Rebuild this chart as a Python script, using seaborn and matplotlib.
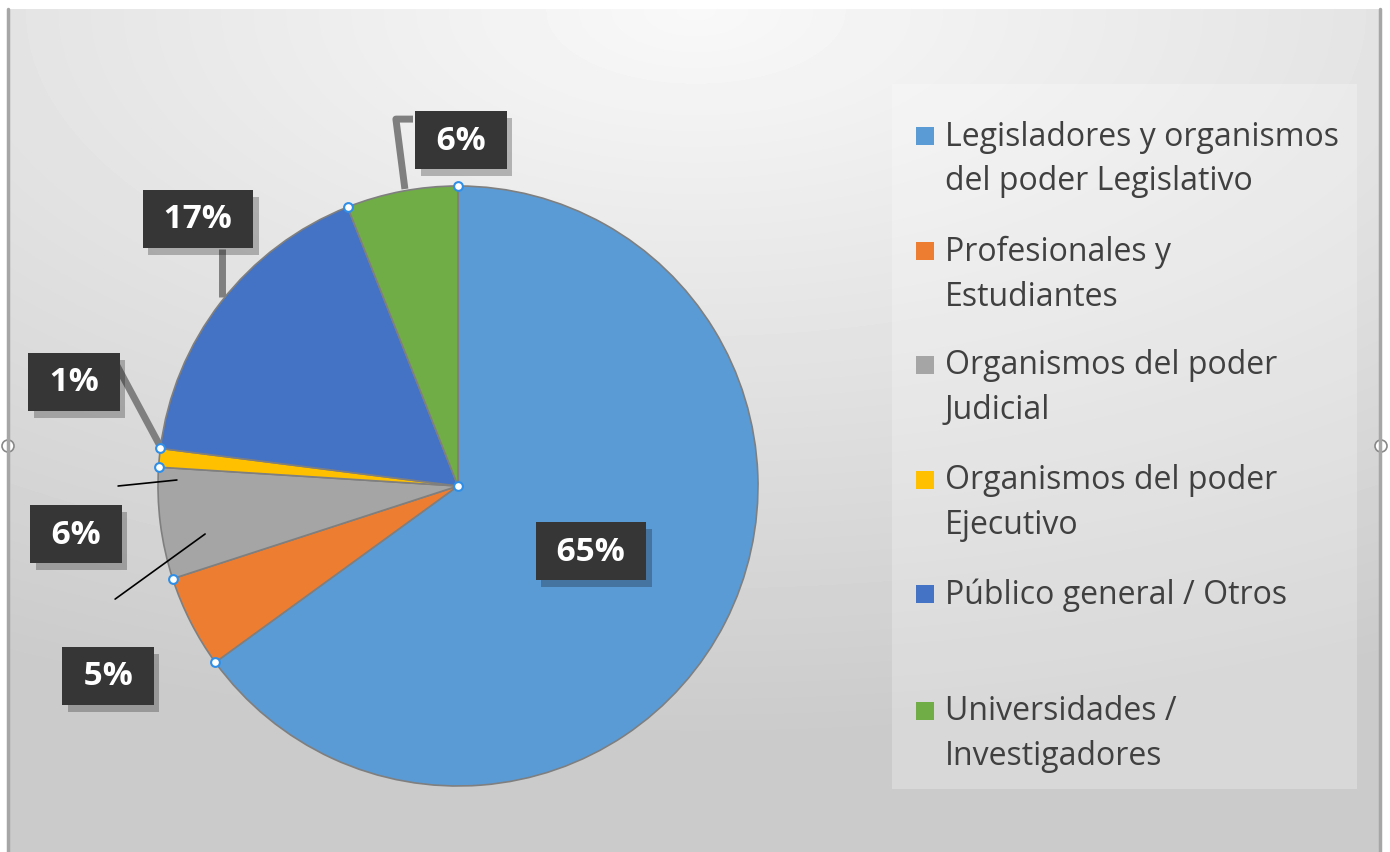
import matplotlib
matplotlib.use("Agg")
import matplotlib.pyplot as plt
import matplotlib.patches as mpatches
import matplotlib.patheffects as pe
import seaborn as sns
import numpy as np

# data
categories = [
    "Legisladores y organismos\ndel poder Legislativo",
    "Profesionales y\nEstudiantes",
    "Organismos del poder\nJudicial",
    "Organismos del poder\nEjecutivo",
    "Público general / Otros",
    "Universidades /\nInvestigadores",
]
shares = [65, 5, 6, 1, 17, 6]
pct_labels = ["65%", "5%", "6%", "1%", "17%", "6%"]
palette = ["#5B9BD5", "#ED7D31", "#A5A5A5", "#FFC000", "#4472C4", "#70AD47"]

sns.set_style("white")
plt.rcParams["font.family"] = ["Open Sans", "DejaVu Sans"]

W, H = 1390, 853
fig = plt.figure(figsize=(W / 100, H / 100), dpi=100)
fig.patch.set_facecolor("white")

# background panel with soft radial gradient
bg = fig.add_axes([7 / W, 0, (1381 - 7) / W, (H - 10) / H])
yy, xx = np.mgrid[0:200, 0:330]
d = np.sqrt(((xx - 165) / 330) ** 2 + (yy / 200) ** 2 * 1.6)
shade = 0.975 - 0.165 * np.clip(d, 0, 1.1)
bg.imshow(shade, cmap="gray", vmin=0, vmax=1, aspect="auto", interpolation="bilinear")
bg.set_axis_off()
fig.add_artist(plt.Line2D([8 / W, 8 / W], [0, (H - 10) / H], color="#a6a6a6", lw=2.5))
fig.add_artist(plt.Line2D([1380 / W, 1380 / W], [0, (H - 10) / H], color="#a6a6a6", lw=2.5))

# legend panel
fig.add_artist(mpatches.Rectangle((892 / W, (H - 790) / H), 465 / W, 705 / H,
                                  facecolor="white", alpha=0.25, edgecolor="none"))

# pie
cx, cy, r = 458, 487, 300
ax = fig.add_axes([(cx - r) / W, (H - cy - r) / H, 2 * r / W, 2 * r / H])
ax.pie(shares, colors=palette, startangle=90, counterclock=False, radius=1,
       wedgeprops=dict(edgecolor="#7f7f7f", linewidth=1.2))
ax.set_xlim(-1, 1)
ax.set_ylim(-1, 1)
ax.set_aspect("equal")
ax.set_axis_off()

# leader lines
lead = dict(color="#7f7f7f", lw=5, solid_capstyle="butt", clip_on=False, zorder=3)
ax.plot([-0.177, -0.207, -0.15], [0.99, 1.223, 1.223], **lead)
ax.plot([-0.787, -0.787], [0.79, 0.63], **lead)
ax.plot([-1.14, -0.993], [0.407, 0.133], **lead)
ax.plot([-1.133, -0.937], [0.0, 0.02], color="black", lw=1.2, clip_on=False, zorder=3)
ax.plot([-1.143, -0.843], [-0.377, -0.16], color="black", lw=1.2, clip_on=False, zorder=3)

# selection handles at wedge borders
edges = np.cumsum([0] + shares[:-1]) / sum(shares)
ang = np.deg2rad(90 - 360 * edges)
ax.scatter(np.cos(ang), np.sin(ang), s=40, facecolor="white", edgecolor="#2f8fe8",
           linewidth=1.5, zorder=5, clip_on=False)
ax.scatter([0], [0], s=40, facecolor="white", edgecolor="#2f8fe8", linewidth=1.5, zorder=5)

# percentage boxes
label_xy = [(0.443, -0.217), (-1.167, -0.633), (-1.273, -0.16),
            (-1.28, 0.347), (-0.867, 0.89), (0.01, 1.153)]
for txt, (lx, ly) in zip(pct_labels, label_xy):
    t = ax.text(lx, ly, f" {txt} ", ha="center", va="center", fontsize=24,
                fontweight="bold", color="white", zorder=7, clip_on=False,
                bbox=dict(boxstyle="square,pad=0.38", fc="#363636", ec="none"))
    t.get_bbox_patch().set_path_effects(
        [pe.SimplePatchShadow(offset=(4, -5), shadow_rgbFace="black", alpha=0.25), pe.Normal()])

# legend drawn by hand so markers line up with the first text line
legend_y = [137, 252, 366, 481, 595, 712]
for lab, col, y in zip(categories, palette, legend_y):
    fig.add_artist(mpatches.Rectangle(((925 - 9) / W, (H - y - 9) / H), 18 / W, 18 / H,
                                      facecolor=col, edgecolor="none"))
    lines = lab.split("\n")
    fig.text(945 / W, (H - y) / H, lines[0], ha="left", va="center",
             fontsize=23, color="#404040")
    if len(lines) > 1:
        fig.text(945 / W, (H - y - 45) / H, lines[1], ha="left", va="center",
                 fontsize=23, color="#404040")

# frame resize handles
for hx in (8, 1381):
    fig.add_artist(mpatches.Ellipse((hx / W, (H - 447) / H), 12 / W, 12 / H,
                                    facecolor="white", edgecolor="#888888", lw=1.2))

fig.savefig("out.png", dpi=100)
